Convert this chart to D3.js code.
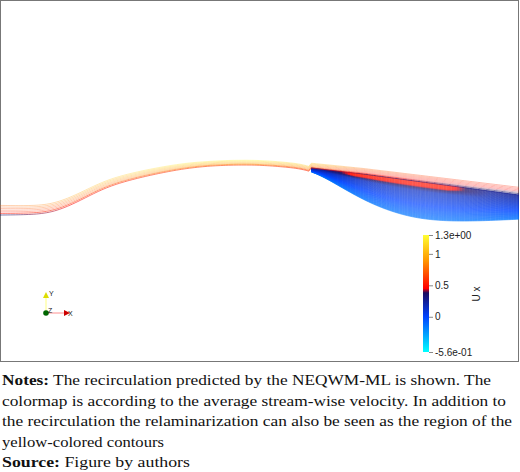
<!DOCTYPE html>
<html><head><meta charset="utf-8">
<script src="https://cdn.jsdelivr.net/npm/d3@7"></script>
<style>
body{margin:0;background:#fff}
.cap{font-family:"Liberation Serif","Times New Roman","DejaVu Serif",serif;font-size:15.5px;fill:#111}
.lab{font-family:"Liberation Sans",Arial,sans-serif;fill:#222}
</style>
</head><body>
<div class="chart"></div>
<script>
// wall / bubble-bottom profile, sampled every 0.5 hill units from x=0 to x=10
var wallY = [0.175, 0.18, 0.22, 0.5, 0.85, 1.05, 1.2, 1.325, 1.4, 1.425, 1.425,
             1.375, 1.3, 0.925, 0.55, 0.275, 0.1, 0.03, 0.02, 0.04, 0.07];
// top of the separated shear layer
var shearX = [6, 7, 8, 9, 10];
var shearY = [1.35, 1.2, 1.025, 0.85, 0.675];
// average stream-wise velocity along the outer streamlines
var velX = [0, 1, 2, 3.5, 5, 6, 7, 8.5, 10];
var velU = [0.75, 0.85, 1.05, 1.2, 1.25, 1.05, 0.75, 0.6, 0.55];
// spread of the outer streamline band along x
var spreadX = [0, 2, 4, 6, 8, 10];
var spreadK = [1.0, 0.75, 0.5, 0.5, 0.65, 0.8];
var outerOffsets = [0, 0.04, 0.08, 0.12, 0.16, 0.2, 0.24];
var ticks = [1.3, 1, 0.5, 0, -0.56];
var tickLabels = ["1.3e+00", "1", "0.5", "0", "-5.6e-01"];

var W = 520, H = 472;
var svg = d3.select(".chart").append("svg").attr("width", W).attr("height", H);

svg.append("rect").attr("x", 0.5).attr("y", 0.5).attr("width", 518).attr("height", 361)
    .attr("fill", "none").attr("stroke", "#777");

var x = d3.scaleLinear().domain([0, 10]).range([0, 519]);
var y = d3.scaleLinear().domain([0, 2]).range([222, 142]);
var wallI = d3.interpolateBasis(wallY);
function wall(t) { return wallI(t / 10); }
var shear = d3.scaleLinear().domain(shearX).range(shearY).clamp(true);
var vel = d3.scaleLinear().domain(velX).range(velU);
var spread = d3.scaleLinear().domain(spreadX).range(spreadK);
var color = d3.scaleLinear()
    .domain([-0.56, 0, 0.38, 0.45, 0.9, 1.3])
    .range(["#00ffff", "#0044ff", "#1a0a60", "#ff0000", "#ff9900", "#ffff33"]);
// where along x the top of the bubble turns red
var redW = d3.scaleLinear().domain([6.2, 6.8, 8.6, 9.4]).range([0, 1, 1, 0]).clamp(true);

var sepX = 6;
function outerBase(t) { return t < sepX ? wall(t) : shear(t); }

var xs = d3.range(0, 10.001, 0.05);

// recirculation bubble streamlines
var bub = svg.append("g").attr("fill", "none").attr("stroke-width", 0.6);
var fracs = d3.range(0, 1.0001, 1 / 70);
var bx = d3.range(sepX, 10.001, 0.05);
fracs.forEach(function(f) {
    for (var k = 0; k < bx.length - 1; k++) {
        var a = bx[k], b = bx[k + 1];
        var ya = wall(a) + (shear(a) - wall(a)) * f;
        var yb = wall(b) + (shear(b) - wall(b)) * f;
        var base = -0.15 + 0.4 * f;
        var w = f > 0.75 ? redW(a) * Math.min(1, (f - 0.75) / 0.15) : 0;
        var u = base + (0.5 - base) * w;
        bub.append("line")
            .attr("x1", x(a)).attr("y1", y(ya))
            .attr("x2", x(b)).attr("y2", y(yb))
            .attr("stroke", color(u))
            .attr("stroke-opacity", 0.85);
    }
});

// outer streamlines, drawn as short segments so the colour can vary along them
var seg = svg.append("g").attr("fill", "none").attr("stroke-width", 0.7);
outerOffsets.forEach(function(o, i) {
    var damp = 0.6 + 0.4 * (i / (outerOffsets.length - 1));
    for (var k = 0; k < xs.length - 1; k++) {
        var a = xs[k], b = xs[k + 1];
        var u = i === 0 ? vel(a) * 0.5 : vel(a) * damp;
        seg.append("line")
            .attr("x1", x(a)).attr("y1", y(outerBase(a) + o * spread(a)))
            .attr("x2", x(b)).attr("y2", y(outerBase(b) + o * spread(b)))
            .attr("stroke", color(u))
            .attr("stroke-opacity", i < 2 ? 0.8 : 0.45);
    }
});

// colorbar
var cb = d3.scaleLinear().domain([-0.56, 1.3]).range([352, 235]);
var grad = svg.append("defs").append("linearGradient").attr("id", "cbg")
    .attr("x1", 0).attr("y1", 1).attr("x2", 0).attr("y2", 0);
color.domain().forEach(function(d) {
    grad.append("stop").attr("offset", (d + 0.56) / 1.86).attr("stop-color", color(d));
});
svg.append("rect").attr("x", 423).attr("y", 235).attr("width", 6).attr("height", 117)
    .attr("fill", "url(#cbg)");
var axis = d3.axisRight(cb).tickValues(ticks).tickSize(4)
    .tickFormat(function(d, i) { return tickLabels[i]; });
var ag = svg.append("g").attr("transform", "translate(429,0)").call(axis);
ag.select(".domain").remove();
ag.selectAll("line").attr("stroke", "#888");
ag.selectAll("text").attr("class", "lab").attr("font-size", 10).attr("x", 6);
svg.append("text").attr("class", "lab").attr("transform", "translate(480,294) rotate(-90)")
    .attr("text-anchor", "middle").attr("font-size", 10).text("U x");

// orientation triad
var tri = svg.append("g");
tri.append("line").attr("x1", 46).attr("y1", 313).attr("x2", 46).attr("y2", 295).attr("stroke", "#ffff80");
tri.append("path").attr("d", "M43,298 L46,292 L49,298 Z").attr("fill", "#dddd00");
tri.append("line").attr("x1", 46).attr("y1", 313).attr("x2", 66).attr("y2", 313).attr("stroke", "#ff9090");
tri.append("path").attr("d", "M64,310 L70,313 L64,316 Z").attr("fill", "#cc0000");
tri.append("circle").attr("cx", 46).attr("cy", 313).attr("r", 2.8).attr("fill", "#006600");
tri.selectAll("text").data([["Y", 49, 296], ["Z", 48, 313], ["X", 68, 316]]).join("text")
    .attr("class", "lab").attr("x", d => d[1]).attr("y", d => d[2]).text(d => d[0])
    .attr("font-size", 7);

// caption, each line fitted to the width it has in the original
var lines = [
    [["Notes:", true], [" The recirculation predicted by the NEQWM-ML is shown. The", false]],
    [["colormap is according to the average stream-wise velocity. In addition to", false]],
    [["the recirculation the relaminarization can also be seen as the region of the", false]],
    [["yellow-colored contours", false]],
    [["Source:", true], [" Figure by authors", false]]
];
var lineW = [491, 506, 512, 164, 190];
lines.forEach(function(l, i) {
    var t = svg.append("text").attr("class", "cap").attr("x", 2).attr("y", 385 + i * 20.6)
        .attr("textLength", lineW[i] - 2).attr("lengthAdjust", "spacingAndGlyphs");
    l.forEach(function(p) {
        t.append("tspan").attr("font-weight", p[1] ? "bold" : null).text(p[0]);
    });
});
</script>
</body></html>
